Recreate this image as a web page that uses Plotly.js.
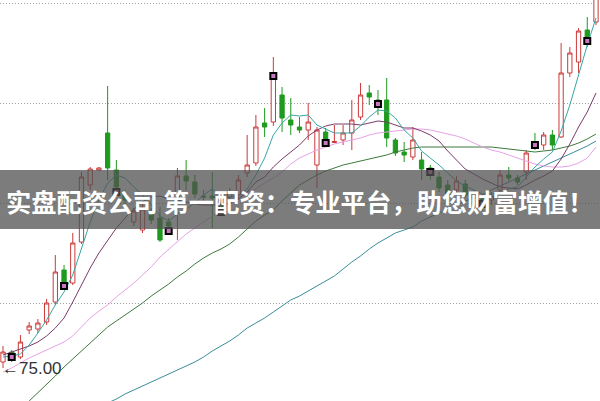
<!DOCTYPE html>
<html><head><meta charset="utf-8">
<script src="https://cdn.plot.ly/plotly-3.0.1.min.js"></script>
<style>html,body{margin:0;padding:0;background:#fff}#c{width:600px;height:401px}</style>
</head><body><div id="c"></div>
<script>
// candle index 0..68
var openP  = [76.2,78.2,77.2,82.6,82.8,84.2,88.2,94.6,92.0,100.2,111.6,114.6,122.0,114.6,109.6,104.2,102.6,106.2,105.0,104.2,108.0,113.4,112.2,109.4,109.4,107.6,109.2,109.6,114.0,116.0,124.0,124.2,129.6,124.6,123.2,122.6,115.6,122.2,120.1,120.6,122.0,125.2,130.0,128.6,128.6,120.6,118.2,117.2,116.6,115.0,113.2,111.6,110.6,111.8,109.0,108.8,108.6,110.6,113.6,113.0,114.2,120.2,119.6,121.6,121.2,134.0,136.2,142.6,144.2];
var highP  = [79.4,78.6,81.6,84.2,84.8,88.8,97.6,95.6,102.0,114.2,115.2,115.2,131.4,116.6,110.6,107.0,108.0,107.0,107.2,105.0,115.0,116.6,113.6,110.6,114.2,108.6,111.0,113.6,121.6,125.6,127.0,137.2,131.2,129.0,125.2,128.0,123.2,123.0,123.6,123.6,128.6,132.0,131.6,130.6,133.0,121.0,120.2,123.2,118.2,115.6,114.2,112.6,113.4,112.6,110.6,109.6,110.2,114.6,115.2,113.6,118.6,122.0,122.2,122.6,140.0,139.2,143.0,145.2,150.6];
var lowP   = [75.0,76.2,76.8,81.8,82.0,83.6,87.6,91.6,91.6,99.8,110.6,114.4,112.6,109.6,107.6,103.4,102.0,103.8,100.2,102.6,100.6,110.6,109.0,108.0,103.0,105.6,108.6,108.6,113.2,115.4,121.2,123.4,122.2,121.6,122.0,120.6,111.0,119.4,120.0,119.6,118.6,124.6,127.6,125.6,119.2,117.4,116.2,116.6,112.6,112.6,110.2,109.2,109.6,109.0,108.2,106.6,107.6,110.0,112.4,111.6,112.6,118.6,118.6,118.6,121.0,133.2,134.0,139.2,143.6];
var closeP = [78.2,77.2,80.2,83.4,84.0,88.0,94.2,92.2,100.0,113.2,114.8,115.0,115.0,111.2,108.6,106.4,106.8,104.6,100.6,103.4,113.4,112.4,109.8,109.2,109.0,106.6,110.2,112.6,115.6,123.2,123.2,133.0,125.0,123.6,122.6,124.2,122.6,120.6,120.3,122.0,124.6,129.6,129.2,127.4,121.0,118.0,117.6,120.6,114.8,113.8,111.0,109.8,112.4,109.6,109.8,107.8,109.4,113.6,113.0,112.2,118.0,119.2,121.6,119.6,134.0,138.0,142.4,141.0,149.6];

var ma5   = [77.2,77.4,77.8,79.6,82.0,84.6,87.6,90.2,93.6,99.0,104.2,108.6,112.0,113.6,113.0,111.2,109.6,107.6,105.4,104.4,105.8,106.8,108.0,109.6,110.8,109.4,109.0,109.6,110.8,113.6,117.0,121.6,124.0,125.6,125.4,125.6,123.6,122.8,122.0,122.0,122.0,123.4,125.2,126.6,126.4,125.0,122.6,121.0,118.4,117.0,115.6,114.0,112.4,111.4,110.6,109.8,109.8,110.0,110.8,111.2,113.2,115.2,116.8,118.2,122.4,127.6,133.6,139.6,145.0];
var ma10  = [77.6,78.2,78.8,79.4,80.2,81.4,83.0,85.0,88.2,91.6,95.0,98.0,100.6,103.0,105.0,106.8,108.2,109.2,109.4,108.8,108.6,108.2,107.8,107.6,107.6,107.6,108.0,108.8,110.2,112.2,113.2,115.2,116.8,118.2,119.6,121.4,122.6,123.4,123.8,123.8,123.8,123.6,124.0,124.4,124.2,123.6,123.0,123.0,122.4,121.6,120.4,118.4,116.6,114.8,113.8,112.8,112.0,111.2,111.0,110.8,111.6,112.6,113.4,114.4,116.8,119.8,123.2,126.2,130.0];
var ma20  = [74.2,75.0,76.0,77.0,77.8,78.6,79.4,80.2,81.4,83.2,85.0,86.4,87.6,89.2,90.6,92.0,93.6,95.2,97.2,98.8,100.4,101.8,103.0,104.2,105.4,106.6,108.0,109.4,110.2,110.8,112.0,113.0,114.2,115.8,117.0,117.8,118.6,119.2,119.8,120.2,120.6,121.0,121.6,122.0,122.2,122.4,122.6,122.8,122.8,122.6,122.2,121.8,121.4,120.8,120.0,119.2,118.6,118.2,117.6,117.0,116.4,115.8,115.4,115.2,115.2,115.4,116.0,117.0,119.2];
var ma60  = [63.6,65.0,66.6,68.4,70.0,71.8,73.4,75.2,76.8,78.4,80.2,81.8,83.2,84.4,85.6,86.8,88.0,89.4,90.6,91.8,93.2,94.4,95.8,97.0,98.0,98.8,99.8,101.2,102.8,104.4,105.6,106.6,108.4,110.0,111.6,112.6,113.6,114.4,115.0,115.6,116.0,116.4,116.8,117.2,117.6,118.2,118.6,119.0,119.2,119.2,119.2,119.2,119.2,119.2,119.2,119.2,119.2,119.0,118.8,118.6,118.4,118.2,118.4,118.6,119.0,119.4,120.0,120.8,121.8];
var ma120 = [58.4,59.2,60.0,60.8,61.6,62.4,63.2,64.0,64.8,65.6,66.4,67.2,68.0,68.8,69.8,70.6,71.4,72.2,73.0,73.8,74.6,75.4,76.2,77.2,78.4,79.4,80.4,81.6,83.0,84.0,85.0,86.2,87.4,88.6,89.4,90.4,91.4,92.4,93.4,94.8,96.2,97.4,98.8,100.0,101.0,102.0,102.6,103.2,104.4,105.2,106.0,106.8,107.6,108.4,109.0,109.6,110.6,111.4,112.2,113.0,113.8,114.6,115.4,116.2,117.0,117.8,118.6,119.4,120.4];

var markIdx = [1,7,13,19,25,31,37,43,49,55,61,67];
var markVal = [77.2,91.4,110.2,102.4,106.2,133.4,120.0,127.8,114.2,107.8,119.6,140.4];

var gridVals = [88,108,128,148];
var lowLabel = "←75.00";
var lowValue = 75.0;
var bannerText = "实盘配资公司 第一配资：专业平台，助您财富增值！";

var idx = openP.map(function(_, i){ return i; });

function maTrace(y, color){
  return {type:'scatter', mode:'lines', x:idx, y:y, line:{color:color, width:1}, hoverinfo:'skip'};
}

var traces = [
  {type:'candlestick', x:idx, open:openP, high:highP, low:lowP, close:closeP,
   increasing:{line:{color:'#cc3a3a', width:1}, fillcolor:'#ffffff'},
   decreasing:{line:{color:'#1e9a1e', width:1}, fillcolor:'#1e9a1e'},
   whiskerwidth:0, hoverinfo:'skip'},
  maTrace(ma120, '#3a8c9a'),
  maTrace(ma60, '#3c7a3c'),
  maTrace(ma20, '#e6a2e6'),
  maTrace(ma10, '#7a3a6a'),
  maTrace(ma5, '#3aa5a5'),
  {type:'scatter', mode:'markers', x:markIdx, y:markVal,
   marker:{symbol:'square', size:6, color:'#c878c0', line:{color:'#000000', width:2}}, hoverinfo:'skip'}
];

var layout = {
  width:600, height:401,
  margin:{l:0, r:0, t:0, b:0},
  paper_bgcolor:'#ffffff', plot_bgcolor:'#ffffff',
  showlegend:false, hovermode:false,
  xaxis:{range:[-0.344, 68.46], visible:false, rangeslider:{visible:false}, fixedrange:true},
  yaxis:{range:[68.4, 148.6], tickvals:gridVals, showticklabels:false, showgrid:true,
         gridcolor:'#a0a0a0', griddash:'1px,2px', gridwidth:1, zeroline:false, showline:false, fixedrange:true},
  shapes:[{type:'rect', xref:'paper', yref:'paper', x0:0, x1:1, y0:1-229/401, y1:1-170/401,
           fillcolor:'rgba(80,80,80,0.75)', line:{width:0}, layer:'above'}],
  annotations:[
    {xref:'paper', yref:'paper', x:4/600, y:1-201/401, xanchor:'left', yanchor:'middle',
     text:bannerText, showarrow:false,
     font:{family:'Noto Sans CJK SC', size:25.3, color:'#ffffff', weight:'bold'}},
    {xref:'paper', yref:'y', x:0, y:lowValue, xanchor:'left', yanchor:'middle',
     text:lowLabel, showarrow:false,
     font:{family:'Liberation Sans, DejaVu Sans', size:17, color:'#333333'}}
  ]
};

Plotly.newPlot('c', traces, layout, {displayModeBar:false, staticPlot:true});
</script></body></html>
